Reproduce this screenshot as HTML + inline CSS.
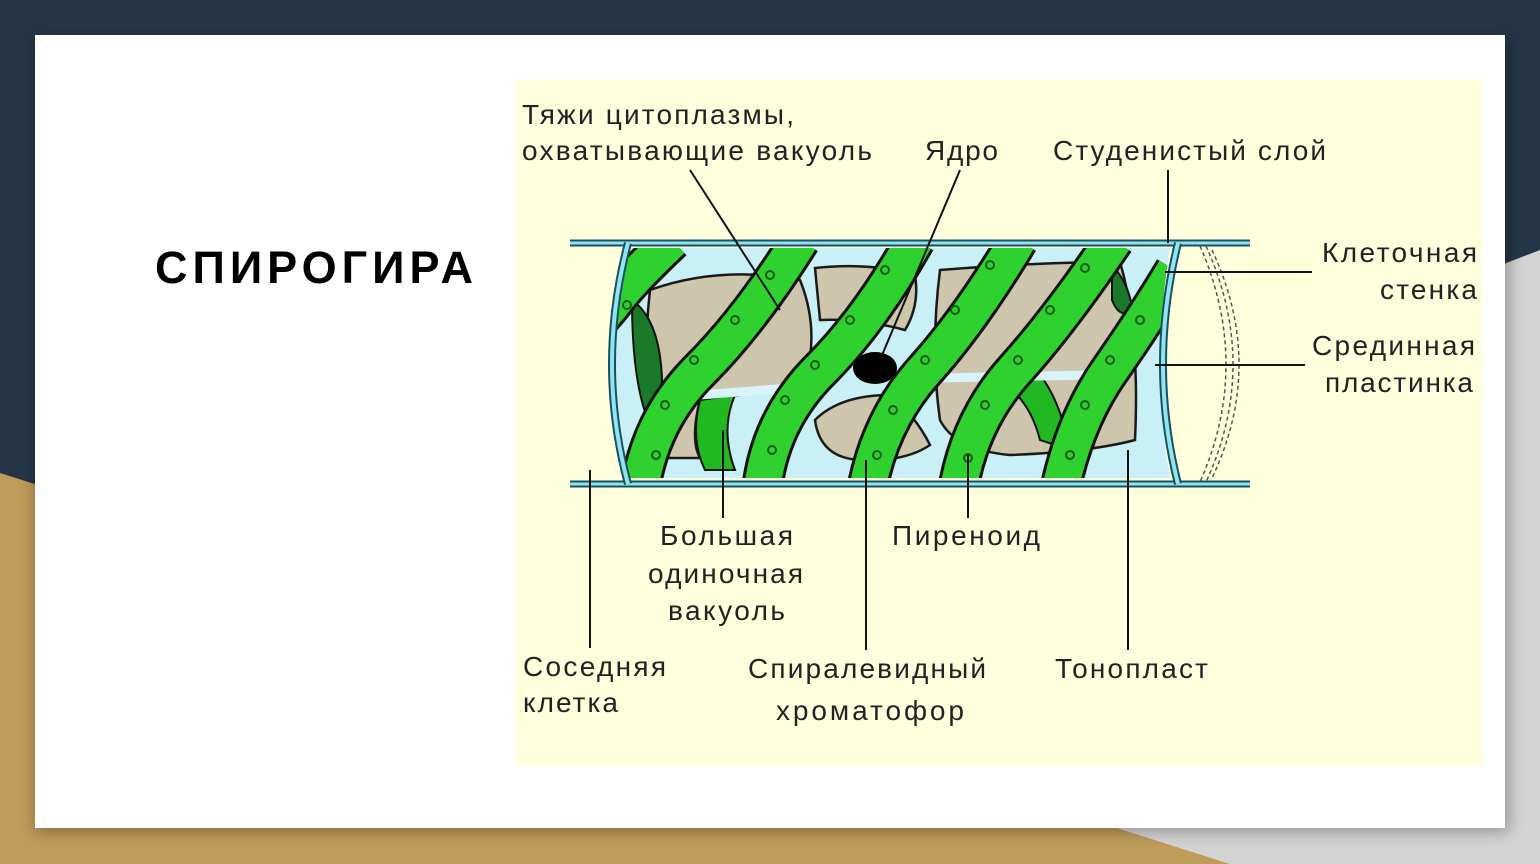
<!DOCTYPE html>
<html><head><meta charset="utf-8"><style>
html,body{margin:0;padding:0;width:1540px;height:864px;overflow:hidden;background:#243647}
svg{display:block}
</style></head><body>
<svg width="1540" height="864" viewBox="0 0 1540 864" xmlns="http://www.w3.org/2000/svg">
<defs>
<filter id="sh" x="-5%" y="-5%" width="110%" height="115%"><feGaussianBlur stdDeviation="8"/></filter>
<clipPath id="cell"><path d="M628,248 L1170,248 Q1150,365 1170,478 L628,478 Q600,365 628,248 Z"/></clipPath>
</defs>
<rect width="1540" height="864" fill="#243647"/>
<polygon points="1540,250 1100,420 1000,864 1540,864" fill="#d4d4d4"/>
<polygon points="0,473 1230,864 0,864" fill="#bf9c5a"/>
<rect x="35" y="40" width="1474" height="792" fill="#000" opacity="0.3" filter="url(#sh)"/>
<rect x="35" y="35" width="1470" height="793" fill="#ffffff"/>
<text x="155" y="283" font-family="Liberation Sans, sans-serif" font-weight="bold" font-size="45" fill="#000" textLength="318">СПИРОГИРА</text>
<rect x="515" y="80" width="967" height="686" fill="#ffffdd"/>

<g stroke="#1a5060" stroke-width="7" fill="none"><path d="M570,243 H1250 M570,484 H1250"/></g>
<g stroke="#8fe6f0" stroke-width="3" fill="none"><path d="M570,243 H1250 M570,484 H1250"/></g>
<path d="M628,248 L1170,248 Q1150,365 1170,478 L628,478 Q600,365 628,248 Z" fill="#c8f0f6"/>
<g clip-path="url(#cell)">
<g fill="#cdc6ac" stroke="#1a1a1a" stroke-width="2.5">
<path d="M650,290 Q720,265 800,280 Q820,330 805,380 Q760,395 700,400 Q690,440 700,458 L655,458 Q640,380 650,290Z"/>
<path d="M815,268 Q870,262 915,275 Q920,305 905,330 Q860,318 820,320Z"/>
<path d="M940,270 Q1040,262 1120,262 Q1140,330 1135,440 Q1090,452 1010,455 Q955,450 940,420 Q930,350 940,270Z"/>
<path d="M815,420 Q840,395 890,395 Q915,415 930,445 Q905,462 860,460 Q820,458 815,420Z"/>
</g>
<g fill="#1a7a2a" stroke="#111" stroke-width="2"><path d="M632,300 Q660,320 662,380 Q660,410 648,420 Q632,380 632,300Z"/><path d="M1112,265 Q1130,285 1132,310 Q1120,320 1112,300Z"/></g>
<g fill="#22b822" stroke="#111" stroke-width="2"><path d="M700,400 Q690,440 705,470 L735,470 Q720,430 735,395Z"/><path d="M1000,380 Q1030,400 1040,440 L1070,450 Q1060,400 1040,375Z"/></g>
<g fill="none" stroke="#d8f4fa" stroke-width="9"><path d="M700,395 L790,388 M935,378 L1092,375"/></g>
<g fill="none" stroke="#111" stroke-width="42" stroke-linecap="butt">
<path d="M560,360 Q600,320 615,300 T672,240"/>
<path d="M640,490 Q650,420 700,370 T800,240"/>
<path d="M762,490 Q770,420 820,370 T915,240"/>
<path d="M867,490 Q880,420 925,370 T1018,240"/>
<path d="M958,490 Q970,420 1015,370 T1114,240"/>
<path d="M1060,490 Q1075,420 1110,370 T1175,270"/>
</g>
<g fill="none" stroke="#2ed12e" stroke-width="36" stroke-linecap="butt">
<path d="M560,360 Q600,320 615,300 T672,240"/>
<path d="M640,490 Q650,420 700,370 T800,240"/>
<path d="M762,490 Q770,420 820,370 T915,240"/>
<path d="M867,490 Q880,420 925,370 T1018,240"/>
<path d="M958,490 Q970,420 1015,370 T1114,240"/>
<path d="M1060,490 Q1075,420 1110,370 T1175,270"/>
</g>
<g fill="none" stroke="#1a5a1a" stroke-width="2">
<circle cx="627" cy="305" r="4"/><circle cx="656" cy="455" r="4"/><circle cx="665" cy="405" r="4"/><circle cx="694" cy="360" r="4"/><circle cx="735" cy="320" r="4"/><circle cx="770" cy="275" r="4"/>
<circle cx="772" cy="450" r="4"/><circle cx="785" cy="400" r="4"/><circle cx="815" cy="365" r="4"/><circle cx="850" cy="320" r="4"/><circle cx="885" cy="270" r="4"/>
<circle cx="877" cy="455" r="4"/><circle cx="893" cy="410" r="4"/><circle cx="925" cy="360" r="4"/><circle cx="955" cy="310" r="4"/><circle cx="990" cy="265" r="4"/>
<circle cx="968" cy="458" r="4"/><circle cx="985" cy="405" r="4"/><circle cx="1018" cy="360" r="4"/><circle cx="1050" cy="310" r="4"/><circle cx="1085" cy="268" r="4"/>
<circle cx="1070" cy="455" r="4"/><circle cx="1085" cy="405" r="4"/><circle cx="1110" cy="360" r="4"/><circle cx="1140" cy="320" r="4"/>
</g>
</g>
<ellipse cx="875" cy="368" rx="22" ry="16" fill="#000"/>
<g fill="none" stroke="#1a5060" stroke-width="8"><path d="M628,243 Q596,365 628,484"/><path d="M1178,243 Q1148,365 1178,484"/></g>
<g fill="none" stroke="#8fe6f0" stroke-width="4"><path d="M628,243 Q596,365 628,484"/><path d="M1178,243 Q1148,365 1178,484"/></g>
<g fill="none" stroke="#555" stroke-width="1.5" stroke-dasharray="4 3"><path d="M1200,246 Q1252,365 1200,482"/><path d="M1206,246 Q1260,365 1206,482"/><path d="M1212,250 Q1266,365 1212,478"/></g>
<g stroke="#111" stroke-width="2" fill="none">
<path d="M690,170 L780,310"/><path d="M960,170 L880,360"/><path d="M1168,170 V243"/>
<path d="M1165,272 H1312"/><path d="M1155,365 H1305"/><path d="M590,470 V648"/>
<path d="M723,430 V518"/><path d="M968,455 V518"/><path d="M866,460 V650"/><path d="M1128,450 V650"/>
</g>
<g font-family="Liberation Sans, sans-serif" font-size="28" fill="#222">
<text x="522" y="124" textLength="272">Тяжи цитоплазмы,</text>
<text x="522" y="160" textLength="350">охватывающие вакуоль</text>
<text x="925" y="160" textLength="73">Ядро</text>
<text x="1053" y="160" textLength="273">Студенистый слой</text>
<text x="1322" y="262" textLength="155">Клеточная</text>
<text x="1380" y="299" textLength="97">стенка</text>
<text x="1312" y="355" textLength="163">Срединная</text>
<text x="1325" y="392" textLength="148">пластинка</text>
<text x="660" y="545" textLength="133">Большая</text>
<text x="648" y="583" textLength="155">одиночная</text>
<text x="668" y="620" textLength="117">вакуоль</text>
<text x="892" y="545" textLength="148">Пиреноид</text>
<text x="523" y="676" textLength="143">Соседняя</text>
<text x="523" y="712" textLength="95">клетка</text>
<text x="748" y="678" textLength="238">Спиралевидный</text>
<text x="776" y="720" textLength="188">хроматофор</text>
<text x="1055" y="678" textLength="153">Тонопласт</text>
</g>
</svg>
</body></html>
